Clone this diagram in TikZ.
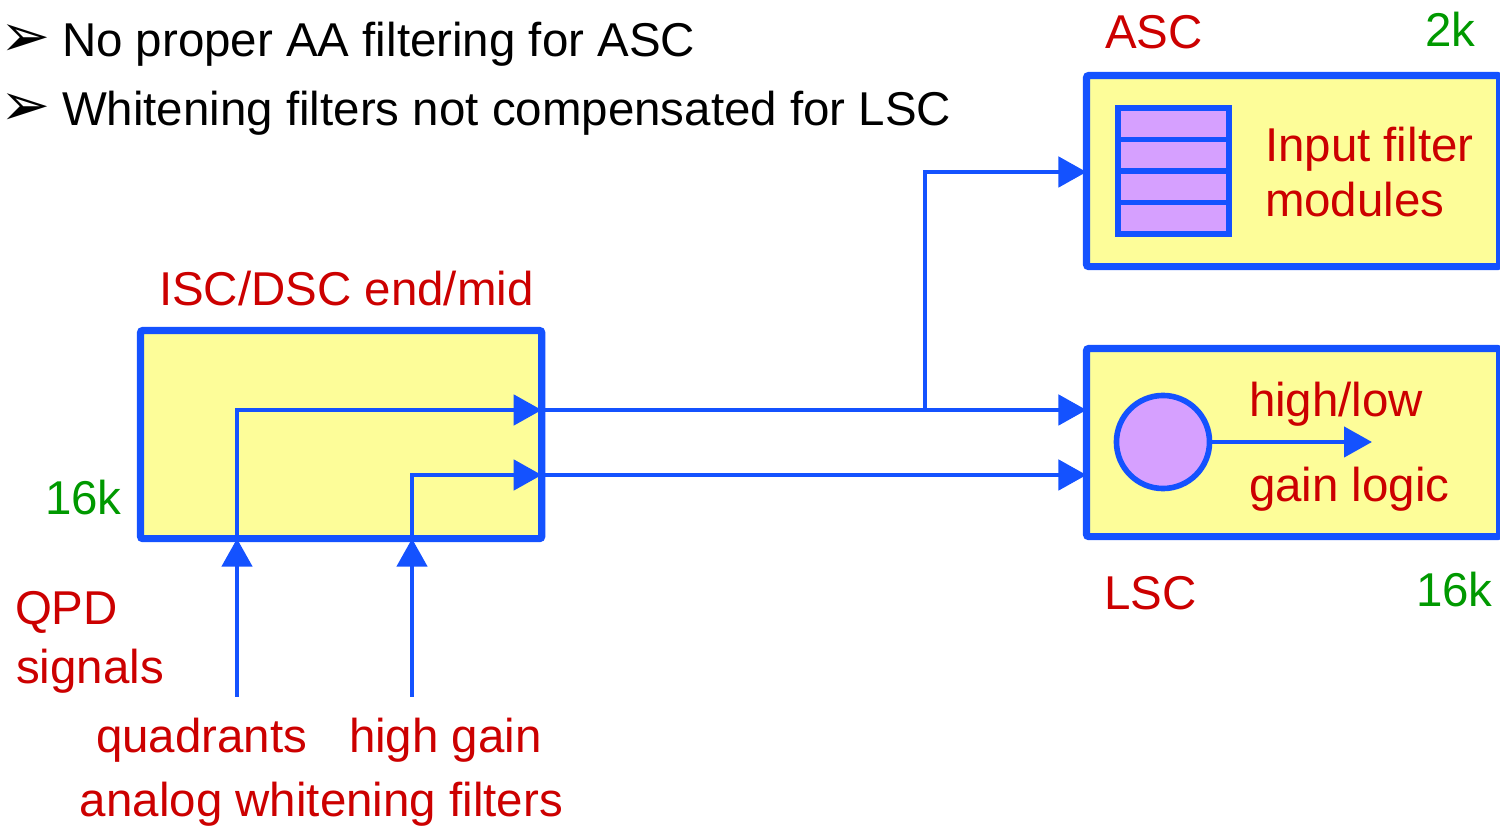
\documentclass[tikz,border=0pt]{standalone}
\usepackage{fontspec}
\setmainfont{Liberation Sans}
\newfontfamily\bulletfont{DejaVu Sans}
\usetikzlibrary{arrows.meta,positioning}
\definecolor{WireClr}{RGB}{20,82,255}
\definecolor{BoxClr}{RGB}{253,253,153}
\definecolor{ModClr}{RGB}{214,160,255}
\definecolor{NameClr}{RGB}{204,0,0}
\definecolor{RateClr}{RGB}{0,153,0}

\begin{document}
\begin{tikzpicture}[x=0.01cm,y=-0.01cm,
  every node/.style={inner sep=0pt,outer sep=0pt},
  note/.style={anchor=base west,font=\fontsize{13.5}{16}\selectfont},
  tag/.style={note,text=NameClr},
  rate/.style={note,text=RateClr},
  block/.style={draw=WireClr,fill=BoxClr,line width=2pt,rounded corners=0.6pt,anchor=north west},
  module/.style={draw=WireClr,fill=ModClr,line width=1.7pt,anchor=north west,
    minimum width=1.11cm,minimum height=0.315cm},
  sig/.style={draw=WireClr,line width=1.3pt,-{Triangle[length=2.8mm,width=3mm]}}]
\useasboundingbox (0,0) rectangle (1500,831);

% notes on top
\node[note,font=\fontsize{17}{18}\selectfont] (b1) at (0,57) {\bulletfont ➢};
\node[note] (n1) at (62,57) {No proper AA filtering for ASC};
\node[note,font=\fontsize{17}{18}\selectfont] (b2) at (0,126) {\bulletfont ➢};
\node[note] (n2) at (62,126) {Whitening filters not compensated for LSC};

% blocks
\node[block,minimum width=4.01cm,minimum height=2.08cm] (isc) at (140.5,330.5) {};
\node[block,minimum width=4.13cm,minimum height=1.91cm] (asc) at (1086.5,75.5) {};
\node[block,minimum width=4.13cm,minimum height=1.88cm] (lsc) at (1086.5,348.5) {};

% ASC input filter modules
\foreach \i in {0,...,3}
  \node[module] (fm\i) at (1118,{108+31.5*\i}) {};

% LSC high/low gain selector
\node[circle,draw=WireClr,fill=ModClr,line width=1.6pt,minimum size=0.93cm] (sel) at (1163,442) {};
\coordinate (selout) at (1372,442);
\draw[sig] (sel.east) -- (selout);

% labels
\node[tag] (iscname) at (159,306) {ISC/DSC end/mid};
\node[rate] (iscrate) at (45,515) {16k};
\node[tag] (ascname) at (1105,49) {ASC};
\node[rate] (ascrate) at (1425,47) {2k};
\node[tag] (lscname) at (1104,610) {LSC};
\node[rate] (lscrate) at (1416,607) {16k};
\node[tag] (ifm1) at (1265,162) {Input filter};
\node[tag] (ifm2) at (1265,217) {modules};
\node[tag] (hl1) at (1249,417) {high/low};
\node[tag] (hl2) at (1249,502) {gain logic};
\node[tag] (qpd1) at (15,625) {QPD};
\node[tag] (qpd2) at (16,683) {signals};
\node[tag] (quad) at (96,752) {quadrants};
\node[tag] (hg) at (349,752) {high gain};
\node[tag] (awf) at (80,817) {analog whitening filters};

% signal paths
\coordinate (q0) at (237,697);
\coordinate (h0) at (412,697);
\coordinate (qy) at (0,410);
\coordinate (hy) at (0,475);
\coordinate (ay) at (0,172);
\coordinate (br) at (925,410);

\draw[sig] (q0) -- (q0 |- isc.south);
\draw[sig] (h0) -- (h0 |- isc.south);
\draw[sig] (q0 |- isc.south) |- (isc.east |- qy);
\draw[sig] (h0 |- isc.south) |- (isc.east |- hy);
\draw[sig] (isc.east |- qy) -- (lsc.west |- qy);
\draw[sig] (isc.east |- hy) -- (lsc.west |- hy);
\draw[sig] (br) |- (asc.west |- ay);

\end{tikzpicture}
\end{document}
